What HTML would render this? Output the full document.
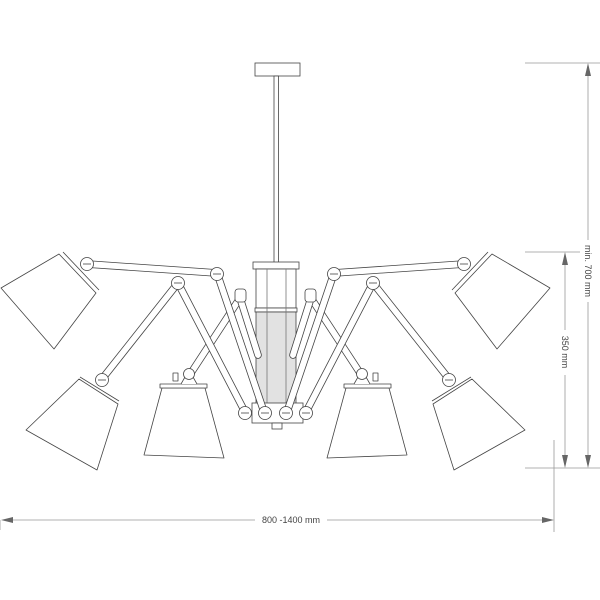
<!DOCTYPE html>
<html><head><style>
html,body{margin:0;padding:0;background:#fff;width:600px;height:600px;overflow:hidden}
svg{display:block}
text{font-family:"Liberation Sans",sans-serif;font-size:9px;fill:#444}
</style></head><body>
<svg width="600" height="600" viewBox="0 0 600 600" xmlns="http://www.w3.org/2000/svg">
<defs>
<g id="half" fill="#fff" stroke="#444" stroke-width="0.8" stroke-linejoin="round">
  <g stroke-linecap="round">
    <line x1="87" y1="264" x2="217" y2="273" stroke="#444" stroke-width="7.5"/>
    <line x1="87" y1="264" x2="217" y2="273" stroke="#fff" stroke-width="5.9"/>
    <line x1="102" y1="379" x2="178" y2="283" stroke="#444" stroke-width="7.5"/>
    <line x1="102" y1="379" x2="178" y2="283" stroke="#fff" stroke-width="5.9"/>
    <line x1="189" y1="376" x2="240" y2="298" stroke="#444" stroke-width="7.5"/>
    <line x1="189" y1="376" x2="240" y2="298" stroke="#fff" stroke-width="5.9"/>
    <line x1="240" y1="298" x2="258" y2="355" stroke="#444" stroke-width="7.5"/>
    <line x1="240" y1="298" x2="258" y2="355" stroke="#fff" stroke-width="5.9"/>
    <line x1="178" y1="283" x2="245" y2="412" stroke="#444" stroke-width="7.5"/>
    <line x1="178" y1="283" x2="245" y2="412" stroke="#fff" stroke-width="5.9"/>
    <line x1="217" y1="273" x2="264" y2="412" stroke="#444" stroke-width="7.5"/>
    <line x1="217" y1="273" x2="264" y2="412" stroke="#fff" stroke-width="5.9"/>
  </g>
  <polygon points="59,254 96,293 54,349 1,288"/>
  <line x1="63" y1="252" x2="99" y2="290"/>
  <polygon points="79,379 118,404 97,470 26,430"/>
  <line x1="80" y1="377" x2="119" y2="401"/>
  <polygon points="162,388 205,388 224,458 144,455"/>
  <rect x="160" y="384" width="47" height="4"/>
  <path d="M181 384 L185 377 L193 377 L197 384"/>
  <rect x="173" y="373" width="5" height="8"/>
  <circle cx="87" cy="264" r="6.5"/><line x1="83" y1="264" x2="91" y2="264"/>
  <circle cx="217" cy="274" r="6.5"/><line x1="213" y1="274" x2="221" y2="274"/>
  <circle cx="102" cy="380" r="6.5"/><line x1="98" y1="380" x2="106" y2="380"/>
  <circle cx="178" cy="283" r="6.5"/><line x1="174" y1="283" x2="182" y2="283"/>
  <circle cx="189" cy="374" r="5.5"/>
  <rect x="235" y="289" width="11" height="13" rx="3"/>
  <circle cx="245" cy="413" r="6.5"/><line x1="241" y1="413" x2="249" y2="413"/>
  <circle cx="265" cy="413" r="6.5"/><line x1="261" y1="413" x2="269" y2="413"/>
</g>
</defs>

<rect x="255" y="63" width="45" height="13" fill="#fff" stroke="#444" stroke-width="0.8"/>
<rect x="274" y="76" width="4.5" height="187" fill="#fff" stroke="#444" stroke-width="0.8"/>

<g stroke="#444" stroke-width="0.8" fill="#fff">
  <rect x="253" y="262" width="46" height="7"/>
  <rect x="256" y="269" width="40" height="39"/>
  <rect x="255" y="308" width="42" height="4"/>
  <rect x="256" y="312" width="40" height="94" fill="#e2e2e2"/>
  <line x1="267" y1="269" x2="267" y2="406" stroke="#777"/>
  <line x1="286" y1="269" x2="286" y2="406" stroke="#777"/>
  <rect x="252" y="403" width="51" height="20"/>
  <rect x="272" y="423" width="10" height="6"/>
</g>

<use href="#half"/>
<use href="#half" transform="translate(551,0) scale(-1,1)"/>

<g stroke="#999" stroke-width="0.8" fill="none">
  <line x1="525" y1="63" x2="600" y2="63"/>
  <line x1="525" y1="252" x2="580" y2="252"/>
  <line x1="525" y1="468" x2="600" y2="468"/>
  <line x1="554" y1="440" x2="554" y2="532"/>
  <line x1="588" y1="70" x2="588" y2="240"/>
  <line x1="588" y1="302" x2="588" y2="462"/>
  <line x1="565" y1="258" x2="565" y2="330"/>
  <line x1="565" y1="375" x2="565" y2="462"/>
  <line x1="0" y1="520" x2="0" y2="530"/>
  <line x1="6" y1="520" x2="255" y2="520"/>
  <line x1="327" y1="520" x2="548" y2="520"/>
</g>
<g fill="#666">
  <polygon points="588,63 585,76 591,76"/>
  <polygon points="588,468 585,455 591,455"/>
  <polygon points="565,252 562,265 568,265"/>
  <polygon points="565,468 562,455 568,455"/>
  <polygon points="1,520 13,517 13,523"/>
  <polygon points="554,520 542,517 542,523"/>
</g>
<text x="291" y="523" text-anchor="middle">800 -1400 mm</text>
<text transform="translate(585,271) rotate(90)" text-anchor="middle">min. 700 mm</text>
<text transform="translate(562,352) rotate(90)" text-anchor="middle">350 mm</text>
</svg>
</body></html>
